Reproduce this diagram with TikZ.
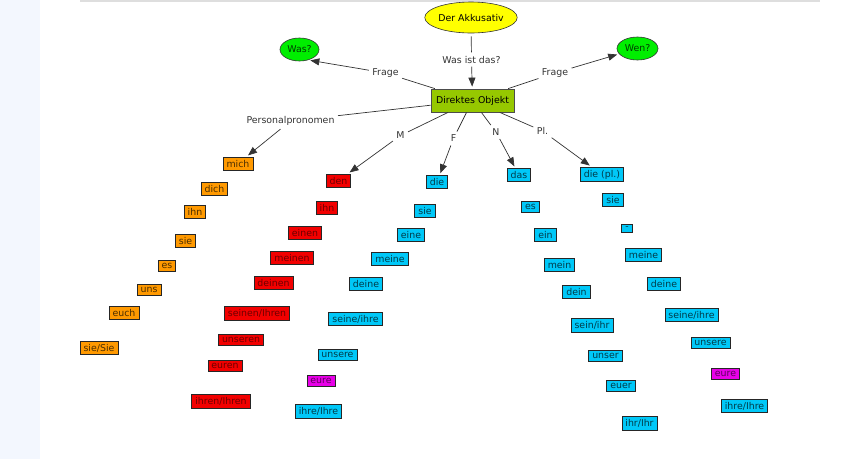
\documentclass[tikz,border=0pt]{standalone}
\usepackage{fontspec}
\setmainfont{DejaVu Sans}
\usetikzlibrary{shapes,arrows.meta,positioning}
\definecolor{orng}{HTML}{FF9900}
\definecolor{rdd}{HTML}{F20000}
\definecolor{bluu}{HTML}{00C8F8}
\definecolor{mgnt}{HTML}{E800E8}
\definecolor{grn}{HTML}{00EE00}
\definecolor{ylw}{HTML}{FFFF00}
\definecolor{olv}{HTML}{96C800}
\definecolor{bgblue}{HTML}{F3F7FE}

\begin{document}
\begin{tikzpicture}[x=1pt,y=-1pt,
    font=\fontsize{9.4}{11}\selectfont,
    box/.style={rectangle,draw=black!85,line width=0.8pt,inner xsep=3.5pt,inner ysep=2.8pt},
    orbox/.style={box,fill=orng,text=orng!30!black},
    rdbox/.style={box,fill=rdd,text=rdd!45!black},
    blbox/.style={box,fill=bluu,text=bluu!30!black},
    mgbox/.style={box,fill=mgnt,text=mgnt!40!black},
    oval/.style={ellipse,draw=black!80,line width=0.6pt,inner sep=0pt},
    lbl/.style={text=black!80},
    con/.style={draw=black!80,line width=0.7pt},
    arr/.style={con,-{Triangle[length=9pt,width=7pt]},shorten >=2pt}]
    % background and frame
    \fill[bgblue] (0,0) rectangle (40,459);
    \draw[black!13,line width=1.5pt] (80,0.75) -- (820,0.75);
    \useasboundingbox (0,0) rectangle (857,459);

    % main concepts
    \node[oval,fill=ylw,minimum width=80pt,minimum height=31pt] (akk) at (471,17.5) {Der Akkusativ};
    \node[box,fill=olv,draw=black!70,text=black,minimum width=83pt,minimum height=23pt] (direkt) at (472.5,100.5) {Direktes Objekt};
    \node[oval,fill=grn,text=grn!25!black,minimum width=39pt,minimum height=23pt] (was) at (299.5,49.5) {Was?};
    \node[oval,fill=grn,text=grn!25!black,minimum width=41pt,minimum height=23pt] (wen) at (637.5,48.5) {Wen?};

    % link labels
    \node[lbl] (wasist) at (471.5,59.5) {Was ist das?};
    \node[lbl] (frageL) at (385.5,73) {Frage};
    \node[lbl] (frageR) at (555,73) {Frage};
    \node[lbl] (perspron) at (290.5,121) {Personalpronomen};
    \node[lbl] (lM) at (400.5,135.5) {M};
    \node[lbl] (lF) at (453.5,138.5) {F};
    \node[lbl] (lN) at (496,132) {N};
    \node[lbl] (lPl) at (542.5,131) {Pl.};

    % Personalpronomen
    \node[orbox] (pmich) at (238,163.5) {mich};
    \node[orbox] (pdich) at (214.5,189) {dich};
    \node[orbox] (pihn) at (195,212) {ihn};
    \node[orbox] (psie) at (185.5,240.5) {sie};
    \node[orbox] (pes) at (167,266) {es};
    \node[orbox] (puns) at (149,290) {uns};
    \node[orbox] (peuch) at (124,312.5) {euch};
    \node[orbox] (psieSie) at (99,348) {sie/Sie};

    % maskulin
    \node[rdbox] (mden) at (338.5,180.5) {den};
    \node[rdbox] (mihn) at (327,208) {ihn};
    \node[rdbox] (meinen) at (305,232.5) {einen};
    \node[rdbox] (mmeinen) at (292,258) {meinen};
    \node[rdbox] (mdeinen) at (273.5,283) {deinen};
    \node[rdbox] (mseinen) at (257,313.5) {seinen/Ihren};
    \node[rdbox] (munseren) at (241,340) {unseren};
    \node[rdbox] (meuren) at (225,366) {euren};
    \node[rdbox] (mihren) at (221,401.5) {ihren/Ihren};

    % feminin
    \node[blbox] (fdie) at (437,182) {die};
    \node[blbox] (fsie) at (425,211) {sie};
    \node[blbox] (feine) at (411,235) {eine};
    \node[blbox] (fmeine) at (390,259) {meine};
    \node[blbox] (fdeine) at (366,283.5) {deine};
    \node[blbox] (fseine) at (355.5,319) {seine/ihre};
    \node[blbox] (funsere) at (337.5,355) {unsere};
    \node[mgbox] (feure) at (321,381) {eure};
    \node[blbox] (fihre) at (318.5,411.5) {ihre/Ihre};

    % neutrum
    \node[blbox] (ndas) at (519,175) {das};
    \node[blbox] (nes) at (530.5,207) {es};
    \node[blbox] (nein) at (545.5,235) {ein};
    \node[blbox] (nmein) at (559.5,264.5) {mein};
    \node[blbox] (ndein) at (576.5,292) {dein};
    \node[blbox] (nsein) at (592,325.5) {sein/ihr};
    \node[blbox] (nunser) at (605.5,355.5) {unser};
    \node[blbox] (neuer) at (621,385.5) {euer};
    \node[blbox] (nihr) at (639.5,423.5) {ihr/Ihr};

    % plural
    \node[blbox] (pldie) at (602,174.5) {die (pl.)};
    \node[blbox] (plsie) at (613,200) {sie};
    \node[blbox] (plnone) at (627,228.5) {-};
    \node[blbox] (plmeine) at (643.5,255) {meine};
    \node[blbox] (pldeine) at (664,283.5) {deine};
    \node[blbox] (plseine) at (691.5,315) {seine/ihre};
    \node[blbox] (plunsere) at (710.5,343) {unsere};
    \node[mgbox] (pleure) at (725.5,374) {eure};
    \node[blbox] (plihre) at (744.5,406) {ihre/Ihre};

    % links
    \draw[con,shorten <=3pt] (akk) -- (wasist);
    \draw[arr] (wasist) -- (direkt);
    \draw[con] (direkt) -- (frageL);
    \draw[arr] (frageL) -- (was.-50);
    \draw[con] (direkt) -- (frageR);
    \draw[arr] (frageR) -- (wen);
    \draw[con] (direkt) -- (perspron);
    \draw[arr] (perspron) -- (pmich);
    \draw[con] (direkt) -- (lM);
    \draw[arr] (lM) -- (mden);
    \draw[con] (direkt) -- (lF);
    \draw[arr] (lF) -- (fdie);
    \draw[con] (direkt) -- (lN);
    \draw[arr] (lN) -- (ndas);
    \draw[con] (direkt) -- (lPl);
    \draw[arr] (lPl) -- (pldie);
\end{tikzpicture}
\end{document}
